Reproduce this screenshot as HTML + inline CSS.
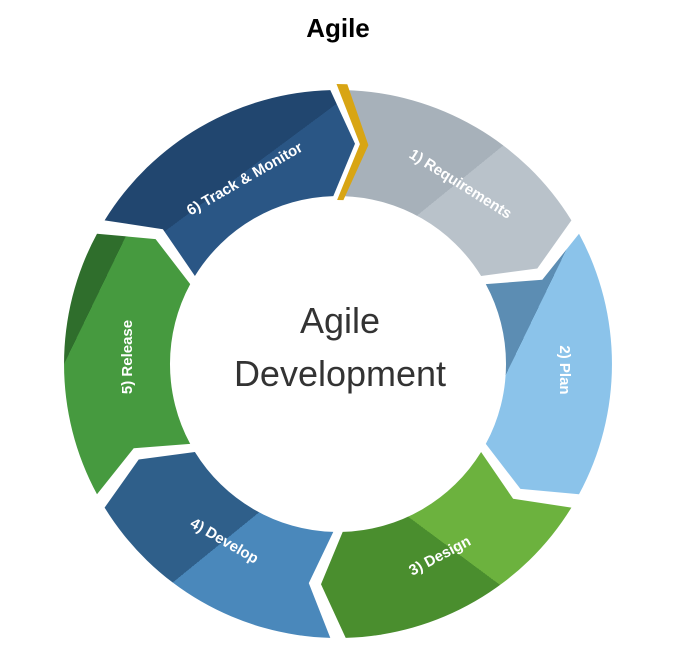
<!DOCTYPE html>
<html><head><meta charset="utf-8"><style>
html,body{margin:0;padding:0;background:#fff;width:675px;height:646px;overflow:hidden}
svg{display:block}
</style></head><body>
<svg id="s" width="675" height="646" viewBox="0 0 675 646" xmlns="http://www.w3.org/2000/svg">
<defs>
<linearGradient id="g1" x1="0" y1="0" x2="1" y2="1"><stop offset="0.5" stop-color="#a7b1ba"/><stop offset="0.5" stop-color="#b9c2ca"/></linearGradient>
<linearGradient id="g2" x1="0" y1="0" x2="1" y2="1"><stop offset="0.35" stop-color="#5c8db3"/><stop offset="0.35" stop-color="#8bc3ea"/></linearGradient>
<linearGradient id="g3" x1="1" y1="0" x2="0" y2="1"><stop offset="0.5" stop-color="#6cb23e"/><stop offset="0.5" stop-color="#4a8e2e"/></linearGradient>
<linearGradient id="g4" x1="0" y1="0" x2="1" y2="1"><stop offset="0.5" stop-color="#2f5f8a"/><stop offset="0.5" stop-color="#4a88bb"/></linearGradient>
<linearGradient id="g5" x1="0" y1="0" x2="1" y2="1"><stop offset="0.25" stop-color="#2f6e2c"/><stop offset="0.25" stop-color="#469a3f"/></linearGradient>
<linearGradient id="g6" x1="0" y1="0" x2="1" y2="1"><stop offset="0.5" stop-color="#21466f"/><stop offset="0.5" stop-color="#2a5685"/></linearGradient>
</defs>
<text x="338" y="37" text-anchor="middle" font-family="Liberation Sans, sans-serif" font-weight="bold" font-size="26" fill="#000">Agile</text>
<g id="segs"></g>
<text x="340" y="333" text-anchor="middle" font-family="Liberation Sans, sans-serif" font-size="36" fill="#333">Agile</text>
<text x="340" y="386" text-anchor="middle" font-family="Liberation Sans, sans-serif" font-size="36" fill="#333">Development</text>
<g font-family="Liberation Sans, sans-serif" font-weight="bold" font-size="15" fill="#fff" text-anchor="middle">
<text transform="translate(458,188) rotate(32)">1) Requirements</text>
<text transform="translate(560,370) rotate(90)">2) Plan</text>
<text transform="translate(442,560) rotate(-28)">3) Design</text>
<text transform="translate(222,545) rotate(30)">4) Develop</text>
<text transform="translate(132,357) rotate(-90)">5) Release</text>
<text transform="translate(247,183) rotate(-30)">6) Track &amp; Monitor</text>
</g>
</svg>
<script>
(function(){
var cx=338,cy=364,R=274,r=168,m=(R+r)/2,d=6,gap=1.6;
var fills=['url(#g1)','url(#g2)','url(#g3)','url(#g4)','url(#g5)','url(#g6)'];
function p(rad,a){a=a*Math.PI/180;return (cx+rad*Math.cos(a)).toFixed(1)+','+(cy+rad*Math.sin(a)).toFixed(1);}
var h='';
for(var i=0;i<6;i++){
 var a0=-90+60*i+gap,a1=-90+60*(i+1)-gap;
 var s='M'+p(R,a0)+' A'+R+','+R+' 0 0 1 '+p(R,a1)+' L'+p(m,a1+d)+' L'+p(r,a1)+' A'+r+','+r+' 0 0 0 '+p(r,a0)+' L'+p(m,a0+d)+' Z';
 h+='<path d="'+s+'" fill="'+fills[i]+'"/>';
}
// gold chevron
var a=-90+gap+0.3,w=2.2;
h+='<path d="M'+p(R+6,a-w)+' L'+p(R+6,a)+' L'+p(m,a+d)+' L'+p(r-4,a)+' L'+p(r-4,a-w)+' L'+p(m,a+d-w)+' Z" fill="#d8a514"/>';
document.getElementById('segs').innerHTML=h;
})();
</script>
</body></html>
